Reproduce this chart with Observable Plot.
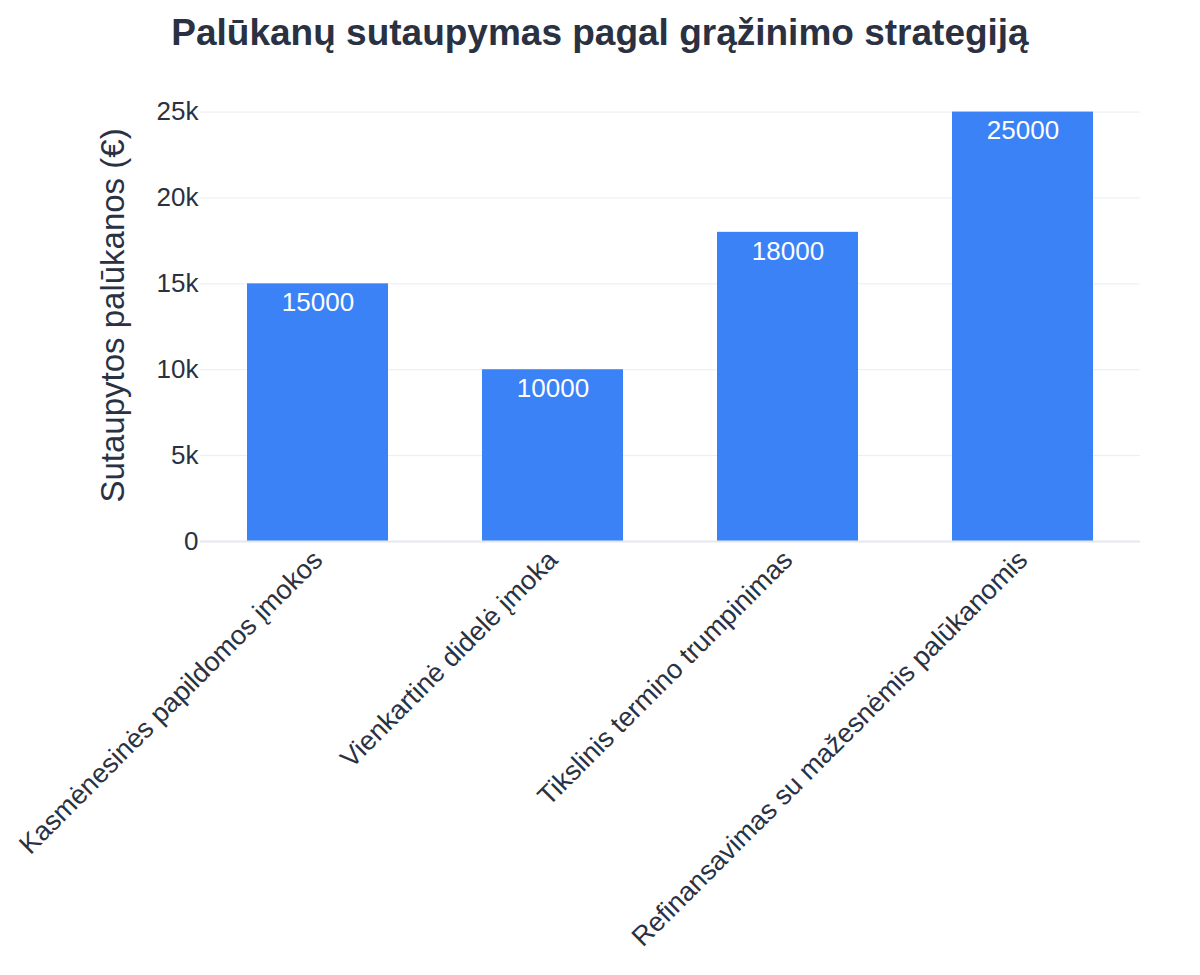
<!DOCTYPE html>
<html>
<head>
<meta charset="utf-8">
<script src="https://cdn.jsdelivr.net/npm/d3@7"></script>
<script src="https://cdn.jsdelivr.net/npm/@observablehq/plot@0.6"></script>
<style>
  html, body { margin: 0; padding: 0; background: #fff; }
  body { width: 1200px; height: 975px; font-family: "Liberation Sans", Arial, sans-serif; }
  #title { height: 70px; line-height: 66px; text-align: center; font-size: 37px; font-weight: bold; color: #2a3142; }
</style>
</head>
<body>
<div id="title">Palūkanų sutaupymas pagal grąžinimo strategiją</div>
<div id="chart"></div>
<script>
const categories = [
  "Kasmėnesinės papildomos įmokos",
  "Vienkartinė didelė įmoka",
  "Tikslinis termino trumpinimas",
  "Refinansavimas su mažesnėmis palūkanomis"
];
const savings = [15000, 10000, 18000, 25000];
const yTicks = [0, 5000, 10000, 15000, 20000, 25000];
const yTickLabels = ["0", "5k", "10k", "15k", "20k", "25k"];
const yLabel = "Sutaupytos palūkanos (€)";

const data = categories.map((c, i) => ({category: c, value: savings[i]}));
const textColor = "#2a3142";
const yMax = d3.max(savings) * 1.0526;

const chart = Plot.plot({
  width: 1200,
  height: 905,
  marginTop: 19,
  marginBottom: 434,
  marginLeft: 200,
  marginRight: 60,
  style: {fontFamily: "'Liberation Sans', Arial, sans-serif", color: textColor, background: "#fff"},
  x: {domain: categories, paddingInner: 0.4, paddingOuter: 0.2},
  y: {domain: [0, yMax]},
  marks: [
    Plot.gridY(yTicks, {stroke: "#e9edf3", strokeOpacity: 1, strokeWidth: 1}),
    Plot.barY(data, {x: "category", y: "value", fill: "#3b82f6"}),
    Plot.ruleY([0], {stroke: "#e3e7ee", strokeWidth: 2}),
    Plot.text(data, {x: "category", y: "value", text: d => String(d.value), fill: "#fff", fontSize: 26, dy: 19, lineAnchor: "middle"}),
    Plot.axisY(yTicks, {
      tickSize: 0, tickPadding: 2, fontSize: 26, fill: textColor,
      tickFormat: (d, i) => yTickLabels[yTicks.indexOf(d)],
      label: yLabel, labelAnchor: "center", labelArrow: "none", labelOffset: 100
    }),
    Plot.axisX({tickSize: 0, tickPadding: 14, tickRotate: -45, fontSize: 27, fill: textColor, label: null})
  ]
});
chart.querySelectorAll("g[aria-label='y-axis label'] text").forEach(t => t.setAttribute("font-size", "33"));
document.getElementById("chart").appendChild(chart);
</script>
</body>
</html>
